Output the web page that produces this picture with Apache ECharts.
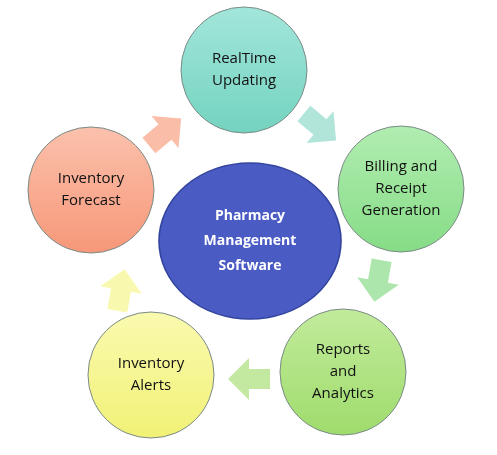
<!DOCTYPE html>
<html>
<head>
<meta charset="utf-8">
<script src="https://cdn.jsdelivr.net/npm/echarts@6/dist/echarts.min.js"></script>
<style>html,body{margin:0;padding:0;background:#fff}#main{width:497px;height:455px}</style>
</head>
<body>
<div id="main"></div>
<script>
// circles of the cycle
var stepNames = ['RealTime\nUpdating', 'Billing and\nReceipt\nGeneration', 'Reports\nand\nAnalytics', 'Inventory\nAlerts', 'Inventory\nForecast'];
var stepX = [244, 401, 343, 151, 91];
var stepY = [70, 189, 372, 375, 190];
var stepColors = [['#a2e6da', '#74d3c0'], ['#b1edb1', '#86dc86'], ['#c2eb9c', '#9fdc6c'], ['#fafab0', '#f1f176'], ['#fbc1ad', '#f79778']];
// arrows between circles
var arrowX = [320, 378, 249, 121, 165];
var arrowY = [127, 281, 379, 290, 132];
var arrowAngle = [-40, -100, 180, 80, 40];
var arrowColors = ['#9ddfd0', '#97e097', '#b4e48a', '#f6f69a', '#f9ad92'];
// center
var centerName = 'Pharmacy\nManagement\nSoftware';

var arrowPath = 'path://M0,2.6 L5,2.6 L5,0 L10,5 L5,10 L5,7.4 L0,7.4 Z';

var circles = stepNames.map(function (n, i) {
    return {
        value: [stepX[i], stepY[i]], name: n,
        itemStyle: {
            color: new echarts.graphic.LinearGradient(0, 0, 0, 1, [
                {offset: 0, color: stepColors[i][0]}, {offset: 1, color: stepColors[i][1]}])
        }
    };
});
var arrows = arrowX.map(function (x, i) {
    return {value: [x, arrowY[i]], symbolRotate: arrowAngle[i], itemStyle: {color: arrowColors[i]}};
});

var chart = echarts.init(document.getElementById('main'));
chart.setOption({
    backgroundColor: '#fff',
    animation: false,
    grid: {left: 0, right: 0, top: 0, bottom: 0},
    xAxis: {type: 'value', min: 0, max: 497, show: false},
    yAxis: {type: 'value', min: 0, max: 455, inverse: true, show: false},
    series: [{
        type: 'scatter',
        data: arrows,
        symbol: arrowPath,
        symbolSize: 42,
        silent: true
    }, {
        type: 'scatter',
        data: circles,
        symbol: 'circle',
        symbolSize: 126,
        itemStyle: {borderColor: '#7a8a86', borderWidth: 1, opacity: 1},
        label: {
            show: true, position: 'inside', formatter: '{b}',
            color: '#111', fontSize: 15, lineHeight: 22, fontFamily: 'Open Sans'
        }
    }, {
        type: 'scatter',
        data: [{value: [250, 241], name: centerName}],
        symbol: 'circle',
        symbolSize: [182, 156],
        itemStyle: {color: '#4a5bc4', borderColor: '#33449e', borderWidth: 1.5, opacity: 1},
        label: {
            show: true, position: 'inside', formatter: '{b}',
            color: '#fff', fontSize: 14, fontWeight: 'bold', lineHeight: 25, fontFamily: 'Open Sans'
        }
    }]
});
</script>
</body>
</html>
